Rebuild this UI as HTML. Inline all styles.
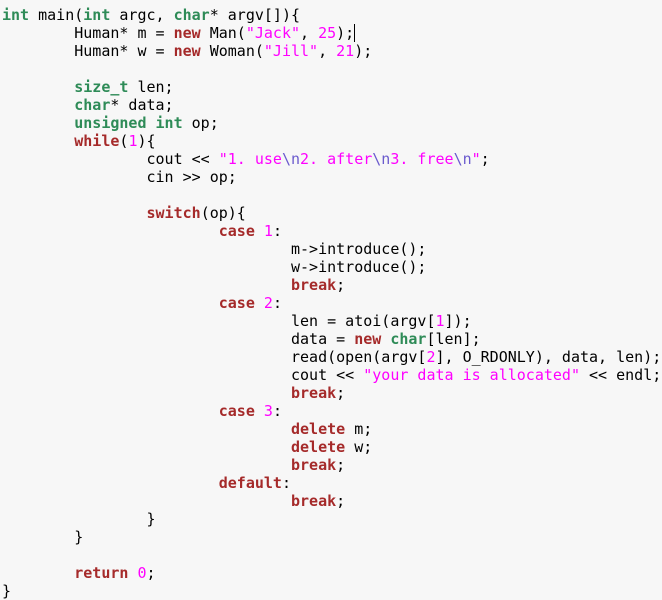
<!DOCTYPE html>
<html><head><meta charset="utf-8"><style>
html,body{margin:0;padding:0;background:#f7f7f7;width:662px;height:600px;overflow:hidden}
pre{margin:0;padding:6px 0 0 2px;font-family:"DejaVu Sans Mono","Liberation Mono",monospace;font-size:15px;line-height:18px;color:#000;tab-size:8;-moz-tab-size:8}
.t{color:#2e8b57;font-weight:bold}
.k{color:#a52a2a;font-weight:bold}
.s{color:#ff00ff}
.e{color:#6a5acd}
.n{color:#ff00ff}
.c{border-right:1px solid #000}
</style></head><body><pre><span class="t">int</span> main(<span class="t">int</span> argc, <span class="t">char</span>* argv[]){
	Human* m = <span class="k">new</span> Man(<span class="s">"Jack"</span>, <span class="n">25</span>);<span class="c"></span>
	Human* w = <span class="k">new</span> Woman(<span class="s">"Jill"</span>, <span class="n">21</span>);

	<span class="t">size_t</span> len;
	<span class="t">char</span>* data;
	<span class="t">unsigned</span> <span class="t">int</span> op;
	<span class="k">while</span>(<span class="n">1</span>){
		cout &lt;&lt; <span class="s">"1. use<span class="e">\n</span>2. after<span class="e">\n</span>3. free<span class="e">\n</span>"</span>;
		cin &gt;&gt; op;

		<span class="k">switch</span>(op){
			<span class="k">case</span> <span class="n">1</span>:
				m-&gt;introduce();
				w-&gt;introduce();
				<span class="k">break</span>;
			<span class="k">case</span> <span class="n">2</span>:
				len = atoi(argv[<span class="n">1</span>]);
				data = <span class="k">new</span> <span class="t">char</span>[len];
				read(open(argv[<span class="n">2</span>], O_RDONLY), data, len);
				cout &lt;&lt; <span class="s">"your data is allocated"</span> &lt;&lt; endl;
				<span class="k">break</span>;
			<span class="k">case</span> <span class="n">3</span>:
				<span class="k">delete</span> m;
				<span class="k">delete</span> w;
				<span class="k">break</span>;
			<span class="k">default</span>:
				<span class="k">break</span>;
		}
	}

	<span class="k">return</span> <span class="n">0</span>;
}
</pre></body></html>
